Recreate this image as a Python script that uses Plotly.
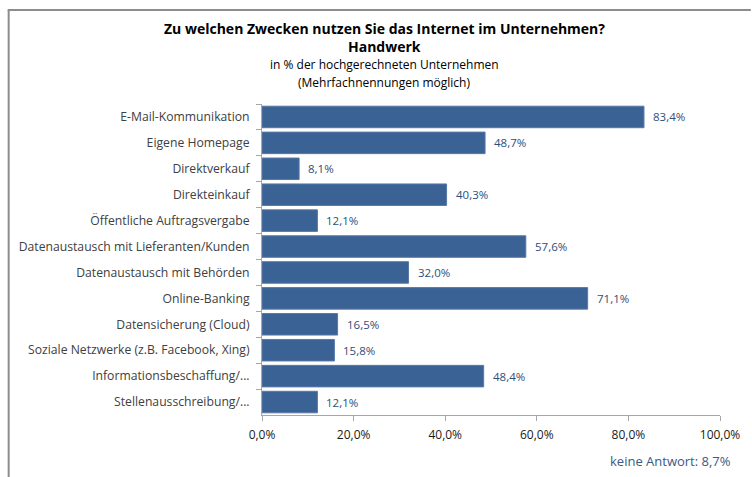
import plotly.graph_objects as go

categories = [
    "E-Mail-Kommunikation",
    "Eigene Homepage",
    "Direktverkauf",
    "Direkteinkauf",
    "Öffentliche Auftragsvergabe",
    "Datenaustausch mit Lieferanten/Kunden",
    "Datenaustausch mit Behörden",
    "Online-Banking",
    "Datensicherung (Cloud)",
    "Soziale Netzwerke (z.B. Facebook, Xing)",
    "Informationsbeschaffung/...",
    "Stellenausschreibung/...",
]
values = [83.4, 48.7, 8.1, 40.3, 12.1, 57.6, 32.0, 71.1, 16.5, 15.8, 48.4, 12.1]
value_labels = [f"{v:.1f}%".replace(".", ",") for v in values]
title_lines = [
    "<b>Zu welchen Zwecken nutzen Sie das Internet im Unternehmen?</b>",
    "<b>Handwerk</b>",
    "in % der hochgerechneten Unternehmen",
    "(Mehrfachnennungen möglich)",
]
footnote = "keine Antwort: 8,7%"

W, H = 752, 477
L, R, T, B = 262, 29, 104, 62
pw, ph = W - L - R, H - T - B

fig = go.Figure()
fig.add_trace(go.Bar(
    x=values, y=categories, orientation="h",
    marker=dict(color="#3A6294", line=dict(color="#5878A6", width=1)),
    hoverinfo="skip",
))

font_main = "'Open Sans', sans-serif"

annotations = []
for c, v, t in zip(categories, values, value_labels):
    annotations.append(dict(x=v, y=c, xref="x", yref="y", text=t, showarrow=False,
                            xanchor="left", xshift=7,
                            font=dict(size=11.5, color="#2F4D7A", family=font_main)))

title_y = [28, 46, 65, 82]
title_size = [14, 14, 12, 12]
for txt, py, fs in zip(title_lines, title_y, title_size):
    annotations.append(dict(x=(385 - L) / pw, y=(H - B - py) / ph, xref="paper", yref="paper",
                            text=txt, showarrow=False, xanchor="center", yanchor="middle",
                            font=dict(size=fs, color="#000000", family=font_main)))
annotations.append(dict(x=(736 - L) / pw, y=(H - B - 461) / ph, xref="paper", yref="paper",
                        text=footnote, showarrow=False, xanchor="right", yanchor="middle",
                        font=dict(size=13, color="#3A5A85", family=font_main)))

def px_x(p):
    return (p - L) / pw

def px_y(p):
    return (H - B - p) / ph

shapes = [
    dict(type="line", xref="paper", yref="paper", x0=px_x(7), x1=px_x(7), y0=px_y(10), y1=px_y(H + 2),
         line=dict(color="#8C8C8C", width=2)),
    dict(type="line", xref="paper", yref="paper", x0=px_x(6), x1=px_x(W + 2), y0=px_y(10), y1=px_y(10),
         line=dict(color="#8C8C8C", width=2)),
]

fig.update_layout(
    width=W, height=H,
    margin=dict(l=L, r=R, t=T, b=B),
    paper_bgcolor="white", plot_bgcolor="white",
    showlegend=False,
    bargap=0.17,
    separators=",.",
    annotations=annotations,
    shapes=shapes,
    font=dict(family=font_main),
)
fig.update_xaxes(
    range=[0, 100], dtick=20, tickformat=".1f", ticksuffix="%",
    showgrid=False, zeroline=False,
    showline=True, linecolor="#A6A6A6", linewidth=1,
    ticks="outside", ticklen=5, tickcolor="#A6A6A6",
    ticklabelstandoff=4,
    tickfont=dict(size=12, color="#1A1A1A", family=font_main),
)
fig.update_yaxes(
    autorange="reversed", type="category",
    showgrid=False, zeroline=False,
    showline=True, linecolor="#A6A6A6", linewidth=1,
    ticks="outside", ticklen=5, tickcolor="#A6A6A6", tickson="boundaries",
    ticklabelstandoff=9,
    tickfont=dict(size=12.2, color="#404040", family=font_main),
)

fig.write_html("out.html", config={"displayModeBar": False},
               post_script="document.body.style.margin='0';document.body.style.overflow='hidden';")
